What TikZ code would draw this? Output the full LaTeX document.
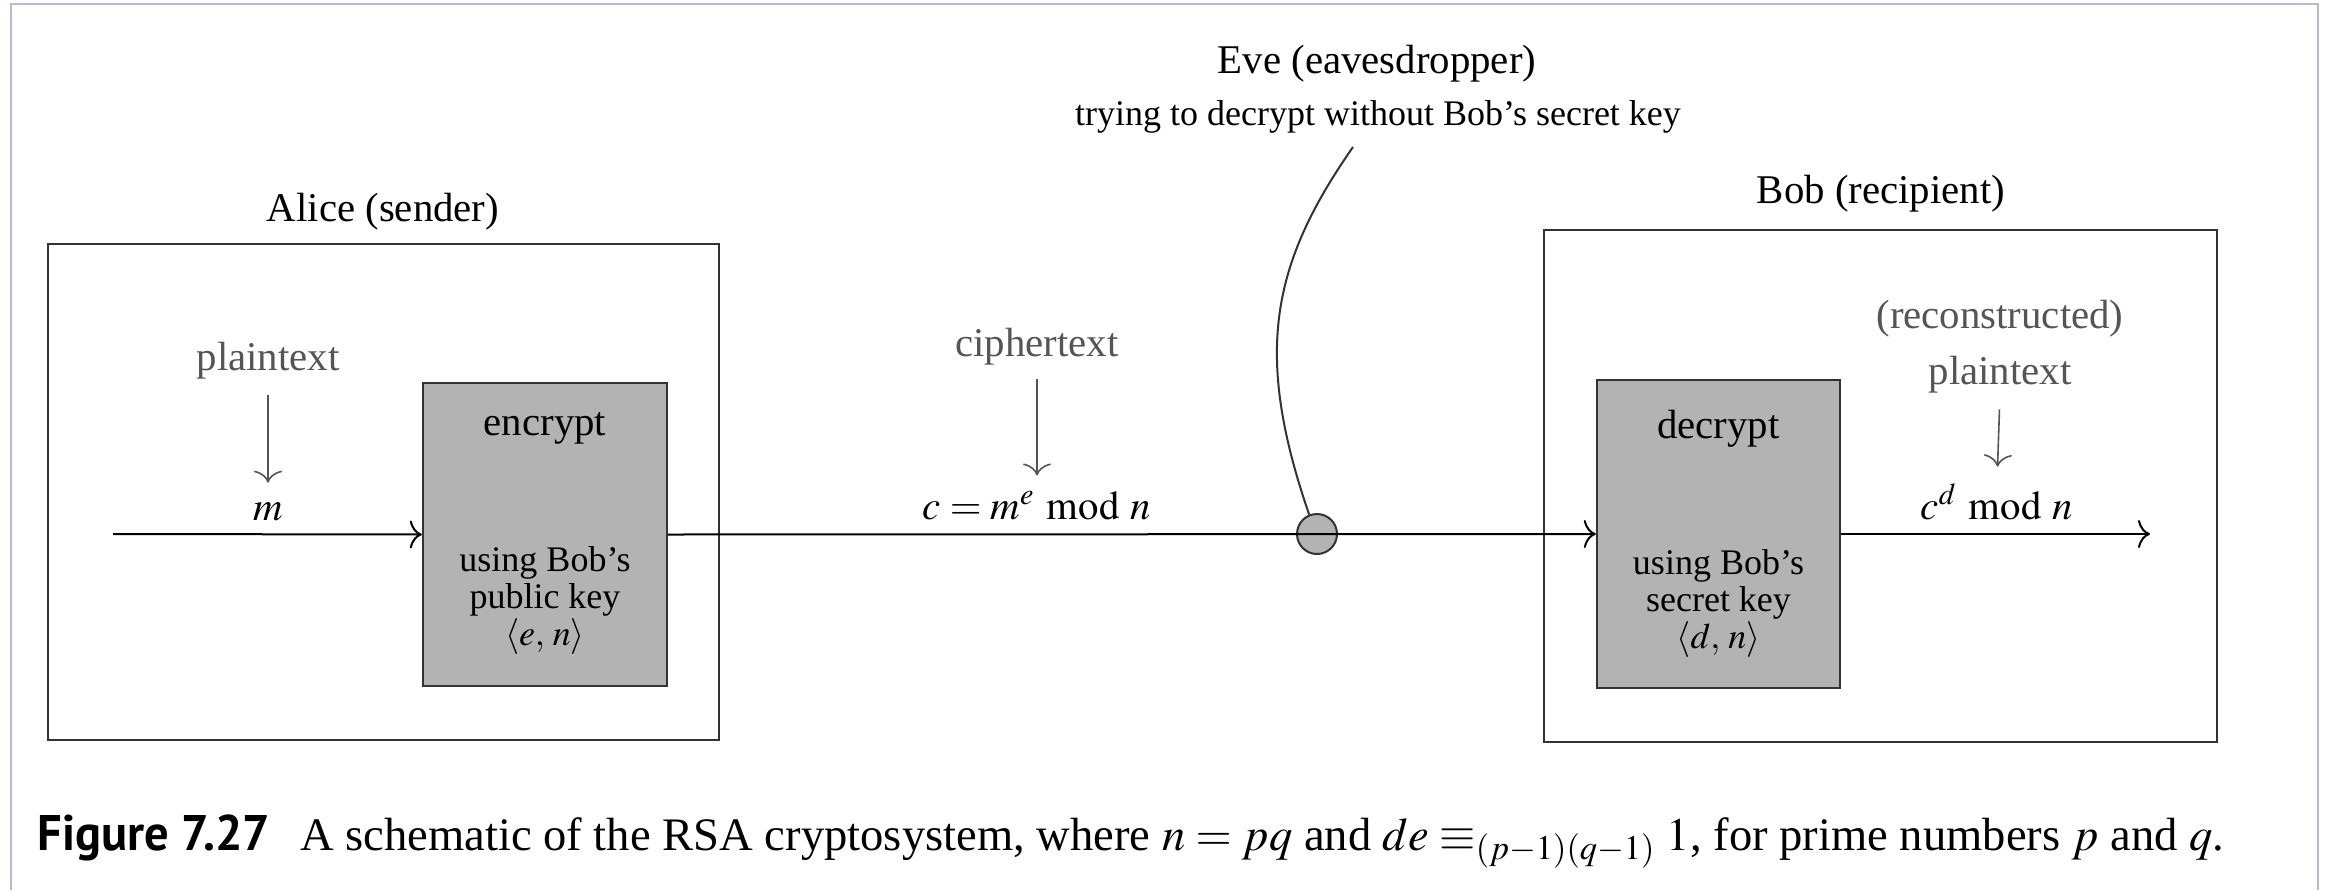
\documentclass[tikz,border=0pt]{standalone}
\usepackage{mathptmx}
\usepackage[no-math]{fontspec}
\setmainfont{Liberation Serif}
\newfontfamily\figfont{PT Sans}
\usepackage{graphicx}
\usetikzlibrary{arrows.meta}
\definecolor{framecol}{HTML}{B5BBD6}
\definecolor{boxfill}{HTML}{B3B3B3}
\definecolor{labgray}{HTML}{555555}
\definecolor{edgecol}{HTML}{333333}
\begin{document}
\begin{tikzpicture}[x=0.25pt,y=-0.25pt,
  lab/.style={anchor=base, inner sep=0pt, font=\fontsize{10.2}{12}\selectfont},
  smalllab/.style={anchor=base, inner sep=0pt, align=center, font=\fontsize{9}{9.2}\selectfont},
  graylab/.style={lab, text=labgray},
  party/.style={draw=edgecol, line width=0.6pt, inner sep=0pt},
  proc/.style={draw=edgecol, fill=boxfill, line width=0.6pt, inner sep=0pt},
  flow/.style={line width=0.5pt, -{To[length=3pt,width=7pt]}},
  hint/.style={draw=labgray, line width=0.4pt, -{To[length=3pt,width=7pt]}},
  tap/.style={circle, draw=edgecol, fill=boxfill, line width=0.5pt, minimum size=10pt, inner sep=0pt},
]
\useasboundingbox (0,0) rectangle (2326,890);
% screenshot frame
\draw[framecol, line width=0.6pt] (11,890) -- (11,4) -- (2318,4) -- (2318,890);

% Eve
\node[lab] (evelab) at (1377,73) {Eve (eavesdropper)};
\node[smalllab] (evetxt) at (1378,125) {trying to decrypt without Bob's secret key};
\coordinate (evestart) at (1353,147);

% parties
\node[lab] (alicelab) at (383,221) {Alice (sender)};
\node[party, minimum width=167.75pt, minimum height=124pt] (alice) at (383.5,492) {};
\node[lab] (boblab) at (1881,203) {Bob (recipient)};
\node[party, minimum width=168.25pt, minimum height=128pt] (bob) at (1880.5,486) {};

% process boxes (multi-line nodes: base = baseline of the last line)
\node[proc, minimum width=61pt, minimum height=75.75pt] (enc) at (545,534.5) {};
\node[lab] (enctitle) at (545,435) {encrypt};
\node[smalllab] (enckey) at (545,645) {using Bob's\\public key\\$\langle e,\,n\rangle$};
\node[proc, minimum width=60.75pt, minimum height=77pt] (dec) at (1718.5,534) {};
\node[lab] (dectitle) at (1718.5,438) {decrypt};
\node[smalllab] (deckey) at (1718.5,648) {using Bob's\\secret key\\$\langle d,\,n\rangle$};

% plaintext in
\node[graylab] (ptin) at (268,370) {plaintext};
\node[lab] (msg) at (268,520) {$m$};
\draw[hint, shorten <=4pt, shorten >=4.7pt] (ptin.south) -- (msg.north);
\coordinate (instart) at (113,534);

% ciphertext
\node[graylab] (ct) at (1037,356) {ciphertext};
\node[lab] (ctf) at (1037,519) {$c = m^e \bmod n$};
\draw[hint, shorten <=3.5pt, shorten >=3.7pt] (ct.south) -- (ctf.north);

% reconstructed plaintext
\node[graylab, align=center, font=\fontsize{10.2}{14}\selectfont] (rec) at (2000,384) {(reconstructed)\\plaintext};
\node[lab] (recf) at (1997,519) {$c^d \bmod n$};
\draw[hint, shorten <=4pt, shorten >=4pt] (rec.south) -- (recf.north);
\coordinate (outend) at (2150,534);

% eavesdropper tap
\node[tap] (eve) at (1317,534) {};
\draw[line width=0.5pt, edgecol] (evestart) .. controls +(-83,119) and +(-55,-160) .. (eve.112);

% main flow
\draw[flow] (instart) -- (enc.west);
\draw[flow] (enc.east) -- (dec.west);
\draw[flow] (dec.east) -- (outend);

% caption
\node[anchor=base west, inner sep=0pt] (cap) at (37,850)
  {\scalebox{0.97}[1]{\figfont\fontsize{12.5}{14}\selectfont\bfseries Figure 7.27}\hspace*{7.5pt}\fontsize{11.65}{14}\selectfont A schematic of the RSA cryptosystem, where $n = pq$ and $de \equiv_{(p-1)(q-1)} 1$, for prime numbers $p$ and $q$.};
\end{tikzpicture}
\end{document}
